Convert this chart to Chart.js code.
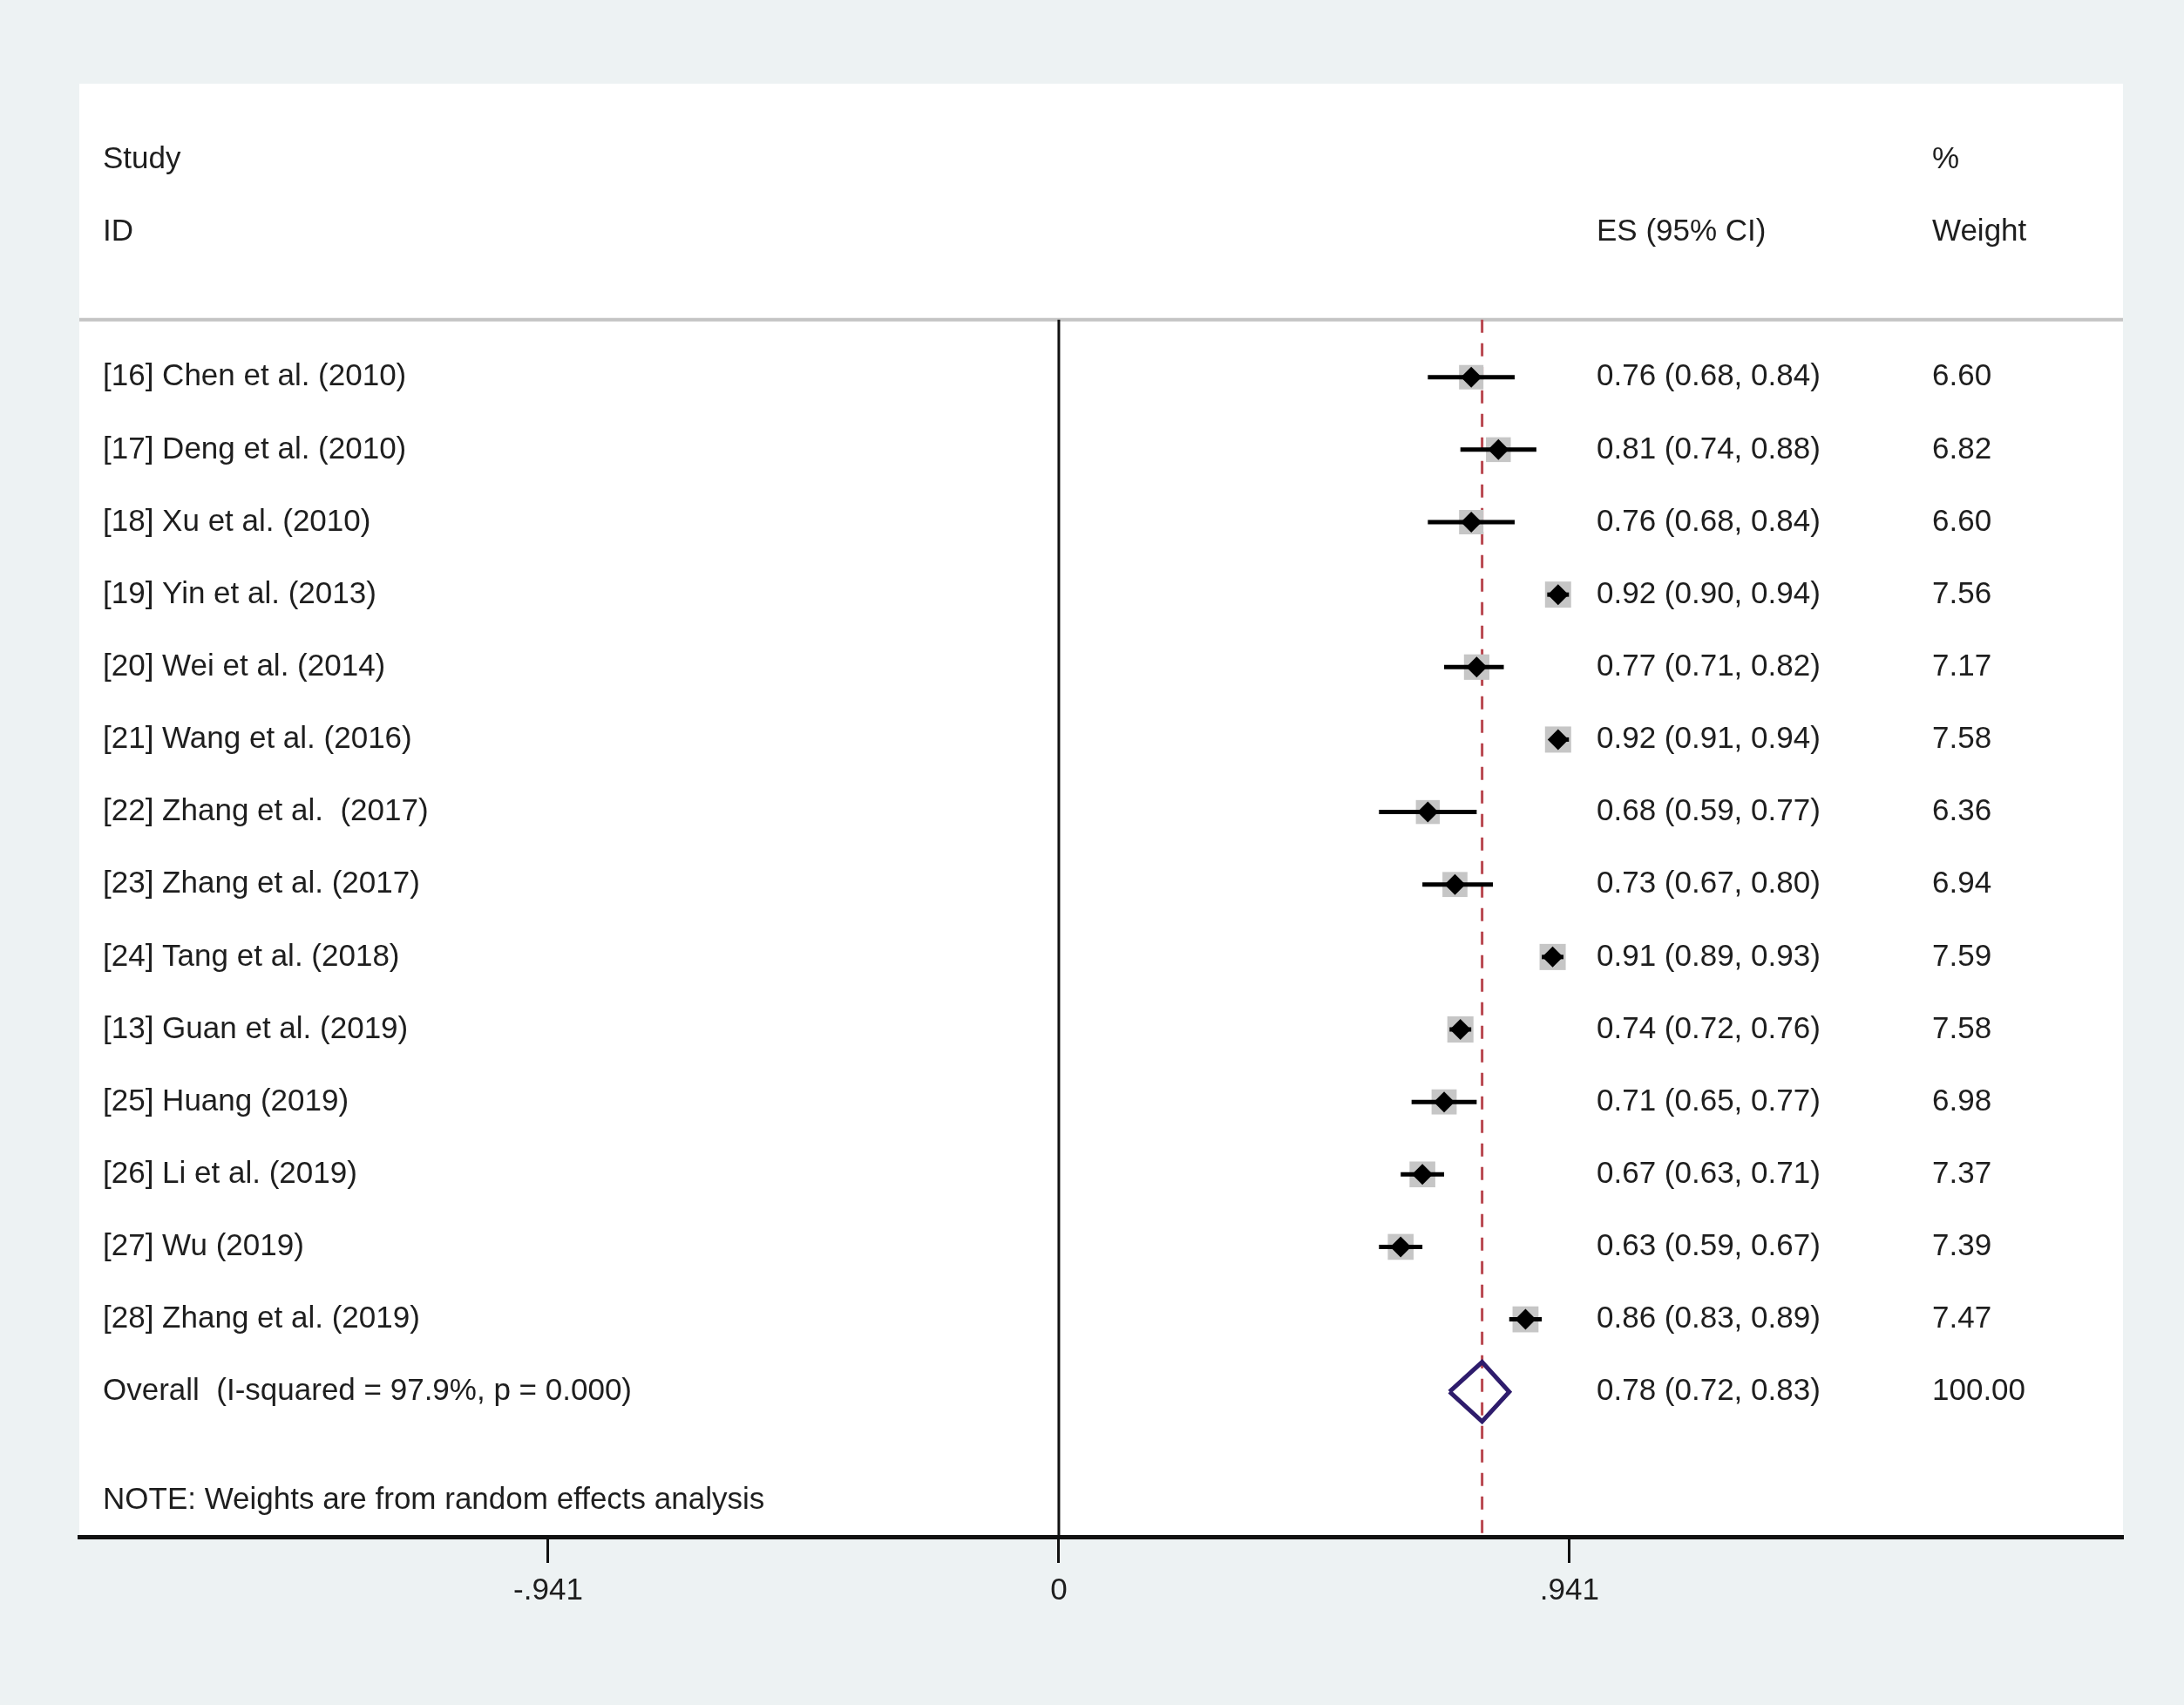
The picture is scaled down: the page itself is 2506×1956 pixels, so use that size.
<!DOCTYPE html>
<html>
<head>
<meta charset="utf-8">
<script src="https://cdn.jsdelivr.net/npm/chart.js@4.4.1/dist/chart.umd.min.js"></script>
<style>
html,body{margin:0;padding:0;background:#edf2f3;}
canvas{display:block;}
</style>
</head>
<body>
<canvas id="c" width="2506" height="1956"></canvas>
<script>
// ---- data ----
const studies = [
  '[16] Chen et al. (2010)',
  '[17] Deng et al. (2010)',
  '[18] Xu et al. (2010)',
  '[19] Yin et al. (2013)',
  '[20] Wei et al. (2014)',
  '[21] Wang et al. (2016)',
  '[22] Zhang et al.  (2017)',
  '[23] Zhang et al. (2017)',
  '[24] Tang et al. (2018)',
  '[13] Guan et al. (2019)',
  '[25] Huang (2019)',
  '[26] Li et al. (2019)',
  '[27] Wu (2019)',
  '[28] Zhang et al. (2019)'
];
const es      = [0.76, 0.81, 0.76, 0.92, 0.77, 0.92, 0.68, 0.73, 0.91, 0.74, 0.71, 0.67, 0.63, 0.86];
const lo      = [0.68, 0.74, 0.68, 0.90, 0.71, 0.91, 0.59, 0.67, 0.89, 0.72, 0.65, 0.63, 0.59, 0.83];
const hi      = [0.84, 0.88, 0.84, 0.94, 0.82, 0.94, 0.77, 0.80, 0.93, 0.76, 0.77, 0.71, 0.67, 0.89];
const weights = [6.60, 6.82, 6.60, 7.56, 7.17, 7.58, 6.36, 6.94, 7.59, 7.58, 6.98, 7.37, 7.39, 7.47];

const overallLabel  = 'Overall  (I-squared = 97.9%, p = 0.000)';
const overallES     = 0.78;
const overallLo     = 0.72;
const overallHi     = 0.83;
const overallWeight = 100.00;

const noteText = 'NOTE: Weights are from random effects analysis';
const headerLeft  = ['Study', 'ID'];
const headerES    = 'ES (95% CI)';
const headerW     = ['%', 'Weight'];

const tickValues = [-0.941, 0, 0.941];
const tickLabels = ['-.941', '0', '.941'];

// ---- layout constants (row units on the y scale) ----
const X_MIN = -1.805, X_MAX = 1.961;
const Y_MIN = -3.05,  Y_MAX = 17;
const SEP_Y = 0.206;
const overallRow = studies.length + 1;
const DIAMOND_HALF_H = 0.41;
const FONT = '35px "Liberation Sans", Arial, sans-serif';
const TEXT_COLOR = '#1e1e1e';

const rowOf = i => i + 1;

const ciDatasets = studies.map((s, i) => ({
  data: [{x: lo[i], y: rowOf(i)}, {x: hi[i], y: rowOf(i)}],
  showLine: true, borderColor: '#000', borderWidth: 5, pointRadius: 0,
  borderCapStyle: 'butt', order: 1
}));

const bgPlugin = {
  id: 'bg',
  beforeDraw(chart) {
    const {ctx, chartArea: a} = chart;
    ctx.save();
    ctx.fillStyle = '#edf2f3';
    ctx.fillRect(0, 0, chart.width, chart.height);
    ctx.fillStyle = '#ffffff';
    ctx.fillRect(a.left, a.top, a.right - a.left, a.bottom - a.top);
    ctx.restore();
  }
};

const textPlugin = {
  id: 'texts',
  afterDraw(chart) {
    const {ctx, chartArea: a} = chart;
    const y = chart.scales.y;
    const xLabel = a.left + 27;
    const xES = a.left + 1741;
    const xW = a.left + 2126;
    ctx.save();
    ctx.font = FONT;
    ctx.fillStyle = TEXT_COLOR;
    ctx.textBaseline = 'middle';
    ctx.textAlign = 'left';
    ctx.fillText(headerLeft[0], xLabel, y.getPixelForValue(-2));
    ctx.fillText(headerLeft[1], xLabel, y.getPixelForValue(-1));
    ctx.fillText(headerES, xES, y.getPixelForValue(-1));
    ctx.fillText(headerW[0], xW, y.getPixelForValue(-2));
    ctx.fillText(headerW[1], xW, y.getPixelForValue(-1));
    studies.forEach((s, i) => {
      const py = y.getPixelForValue(rowOf(i));
      ctx.fillText(s, xLabel, py);
      ctx.fillText(es[i].toFixed(2) + ' (' + lo[i].toFixed(2) + ', ' + hi[i].toFixed(2) + ')', xES, py);
      ctx.fillText(weights[i].toFixed(2), xW, py);
    });
    const po = y.getPixelForValue(overallRow);
    ctx.fillText(overallLabel, xLabel, po);
    ctx.fillText(overallES.toFixed(2) + ' (' + overallLo.toFixed(2) + ', ' + overallHi.toFixed(2) + ')', xES, po);
    ctx.fillText(overallWeight.toFixed(2), xW, po);
    ctx.fillText(noteText, xLabel, y.getPixelForValue(16.5));
    ctx.restore();
  }
};

new Chart(document.getElementById('c'), {
  type: 'scatter',
  data: {
    datasets: [
      { // black diamond point estimates
        data: es.map((v, i) => ({x: v, y: rowOf(i)})),
        pointStyle: 'rectRot', pointRadius: 12, pointBackgroundColor: '#000',
        pointBorderWidth: 0, order: 0
      },
      ...ciDatasets,
      { // grey weight boxes
        data: es.map((v, i) => ({x: v, y: rowOf(i)})),
        pointStyle: 'rect',
        pointRadius: ctx => 10.9 * Math.sqrt(weights[ctx.dataIndex]) / Math.SQRT2,
        pointBackgroundColor: '#c6c6c6', pointBorderWidth: 0, order: 2
      },
      { // overall diamond
        data: [
          {x: overallLo, y: overallRow},
          {x: overallES, y: overallRow - DIAMOND_HALF_H},
          {x: overallHi, y: overallRow},
          {x: overallES, y: overallRow + DIAMOND_HALF_H},
          {x: overallLo, y: overallRow}
        ],
        showLine: true, borderColor: '#2e1c6c', borderWidth: 5, pointRadius: 0,
        borderJoinStyle: 'miter', order: 1
      },
      { // overall effect dashed line
        data: [{x: overallES, y: SEP_Y}, {x: overallES, y: Y_MAX}],
        showLine: true, borderColor: '#b9474f', borderWidth: 3, borderDash: [15, 12],
        pointRadius: 0, order: 3
      },
      { // null line
        data: [{x: 0, y: SEP_Y}, {x: 0, y: Y_MAX}],
        showLine: true, borderColor: '#111', borderWidth: 3, pointRadius: 0, order: 4
      },
      { // header separator
        data: [{x: X_MIN, y: SEP_Y}, {x: X_MAX, y: SEP_Y}],
        showLine: true, borderColor: '#c4c4c4', borderWidth: 4, pointRadius: 0, order: 5
      }
    ]
  },
  options: {
    responsive: false,
    animation: false,
    devicePixelRatio: 1,
    layout: {padding: {left: 91, right: 70, top: 96, bottom: 99}},
    plugins: {legend: {display: false}, tooltip: {enabled: false}},
    elements: {line: {tension: 0}},
    scales: {
      x: {
        type: 'linear', min: X_MIN, max: X_MAX,
        afterBuildTicks: s => { s.ticks = tickValues.map(v => ({value: v})); },
        ticks: {
          callback: v => tickLabels[tickValues.indexOf(v)],
          font: {family: '"Liberation Sans", Arial, sans-serif', size: 35},
          color: TEXT_COLOR, padding: 11, maxRotation: 0, autoSkip: false
        },
        grid: {display: true, drawOnChartArea: false, drawTicks: true, tickLength: 30, tickWidth: 3, tickColor: '#111'},
        border: {display: true, width: 5, color: '#111'}
      },
      y: {type: 'linear', display: false, reverse: true, min: Y_MIN, max: Y_MAX}
    }
  },
  plugins: [bgPlugin, textPlugin]
});
</script>
</body>
</html>
